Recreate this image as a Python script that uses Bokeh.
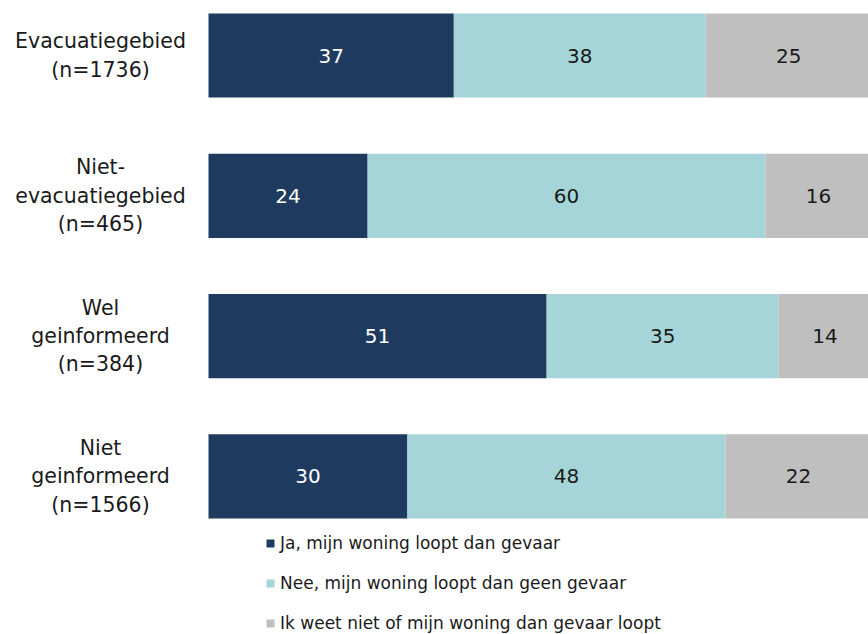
from bokeh.plotting import figure
from bokeh.models import ColumnDataSource, Range1d, Legend, LegendItem
from bokeh.core.properties import value
from bokeh.embed import file_html
from bokeh.resources import INLINE

categories = ["Evacuatiegebied\n(n=1736)", "Niet-\nevacuatiegebied\n(n=465)",
              "Wel\ngeinformeerd\n(n=384)", "Niet\ngeinformeerd\n(n=1566)"]
ja = [37, 24, 51, 30]
nee = [38, 60, 35, 48]
weet_niet = [25, 16, 14, 22]
series_names = ["Ja, mijn woning loopt dan gevaar",
                "Nee, mijn woning loopt dan geen gevaar",
                "Ik weet niet of mijn woning dan gevaar loopt"]
colors = ["#1F3A5F", "#A5D5D9", "#BFBFBF"]
label_colors = ["white", "#1a1a1a", "#1a1a1a"]

FONT = "DejaVu Sans"
W, H = 868, 634
px_per_unit = 6.63
bar_left_px = 208
row_px = 140.3
first_row_px = 55

ypos = list(range(len(categories)))
src = ColumnDataSource(dict(y=ypos, ja=ja, nee=nee, wn=weet_niet, cat=categories))

p = figure(width=W, height=H, output_backend="svg", toolbar_location=None,
           min_border=0, min_border_left=0, min_border_right=0,
           min_border_top=0, min_border_bottom=0)
p.x_range = Range1d(-bar_left_px / px_per_unit, (W - bar_left_px) / px_per_unit)
p.y_range = Range1d((H - first_row_px) / row_px, -first_row_px / row_px)
p.axis.visible = False
p.grid.visible = False
p.outline_line_color = None
p.background_fill_color = "white"
p.border_fill_color = "white"

rs = p.hbar_stack(["ja", "nee", "wn"], y="y", height=0.6, color=colors,
                  line_color=None, source=src)

# value labels
for i in range(len(categories)):
    starts = [0, ja[i], ja[i] + nee[i]]
    vals = [ja[i], nee[i], weet_niet[i]]
    p.text(x=[s + v / 2 for s, v in zip(starts, vals)], y=[i] * 3,
           text=[str(v) for v in vals], text_color=label_colors,
           text_font=value(FONT), text_font_size="20px",
           text_align="center", text_baseline="middle")

# category labels
p.text(x=[-108 / px_per_unit] * len(categories), y=ypos, text=categories,
       text_color="#1a1a1a", text_font=value(FONT), text_font_size="20.5px",
       text_align="center", text_baseline="middle", text_line_height=1.18)

legend = Legend(items=[LegendItem(label=n, renderers=[r]) for n, r in zip(series_names, rs)],
                location=(265, 1), orientation="vertical",
                glyph_width=10, glyph_height=10, label_height=20, spacing=20,
                padding=0, margin=0, label_standoff=5,
                label_text_font=FONT, label_text_font_size="17px",
                label_text_color="#1a1a1a",
                border_line_color=None, background_fill_alpha=0)
p.add_layout(legend)

open("out.html", "w").write(file_html(p, INLINE))
